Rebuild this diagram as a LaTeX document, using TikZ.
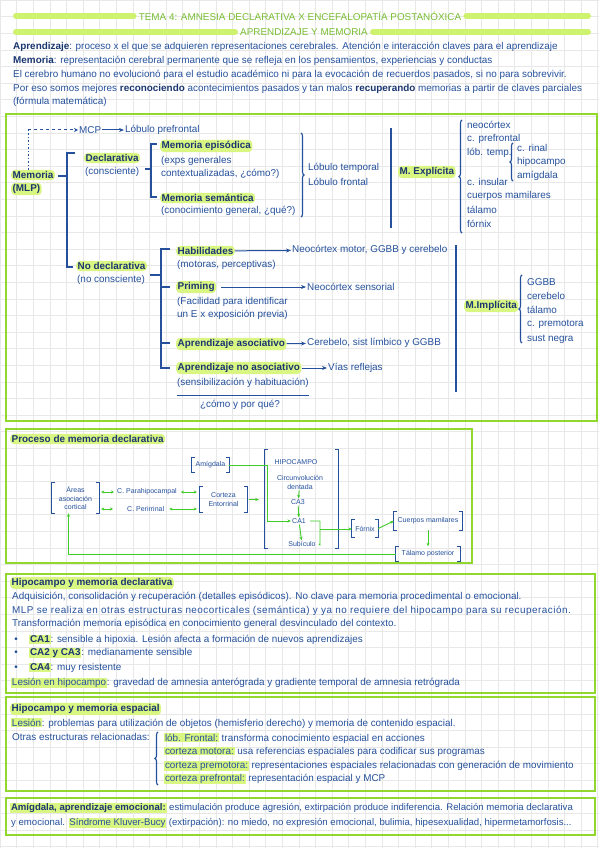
\documentclass[tikz,border=0pt]{standalone}
\usepackage{fontspec}
\setmainfont{Liberation Sans}
\usetikzlibrary{arrows.meta,decorations.pathreplacing}
\definecolor{ink}{RGB}{36,80,156}
\definecolor{inkdark}{RGB}{26,54,112}
\definecolor{framegreen}{RGB}{146,214,48}
\definecolor{barlime}{RGB}{206,242,110}
\definecolor{hilite}{RGB}{218,246,130}
\definecolor{titlegreen}{RGB}{122,190,52}
\definecolor{arrowgreen}{RGB}{64,204,40}
\definecolor{gridgray}{RGB}{232,232,232}
\newcommand\bodysz{\fontsize{9.9}{13.5}\selectfont}
\newcommand\smallbodysz{\fontsize{9.6}{13}\selectfont}
\newcommand\handsz{\fontsize{7}{8.4}\selectfont}
\newcommand\hl[1]{{\setlength\fboxsep{0.8pt}\colorbox{hilite}{#1}}}
\newcommand\hb[1]{{\color{inkdark}\bfseries #1}}
\newcommand\sqbr[1]{\draw[sbrk] ([xshift=3pt]#1.north west) -- (#1.north west) -- (#1.south west) -- ([xshift=3pt]#1.south west)
  ([xshift=-3pt]#1.north east) -- (#1.north east) -- (#1.south east) -- ([xshift=-3pt]#1.south east);}

\begin{document}
\begin{tikzpicture}[x=1pt, y=-1pt,
  every node/.style={inner sep=1pt, text=ink, font=\bodysz},
  txt/.style={anchor=west},
  hlnode/.style={anchor=west, fill=hilite, rounded corners=4pt, inner sep=1.5pt, font=\bodysz\bfseries, text=inkdark},
  hand/.style={font=\handsz, align=center},
  headline/.style={font=\fontsize{9.9}{11}\selectfont, text=titlegreen},
  bar/.style={draw=barlime, line width=6pt, line cap=round},
  frame/.style={draw=framegreen, line width=2.2pt},
  brk/.style={draw=ink, line width=1.1pt},
  sbrk/.style={draw=ink, line width=0.8pt},
  arr/.style={draw=ink, line width=1pt, -{Stealth[length=5pt,width=4pt]}},
  garr/.style={draw=arrowgreen, line width=0.9pt, -{Stealth[length=3.5pt,width=3pt]}},
  gline/.style={draw=arrowgreen, line width=0.9pt},
  gdbl/.style={draw=arrowgreen, line width=0.9pt, {Stealth[length=3pt,width=3pt]}-{Stealth[length=3pt,width=3pt]}},
  brace/.style={draw=ink, line width=1.1pt, decorate, decoration={brace, amplitude=3pt}}]

\useasboundingbox (0,0) rectangle (599,848);
\fill[white] (0,0) rectangle (599,848);
\draw[gridgray, line width=0.5pt, step=16.6pt] (0,0) grid (599,848);

\node[headline] (tema) at (300,16) {TEMA 4: AMNESIA DECLARATIVA X ENCEFALOPATÍA POSTANÓXICA};
\node[headline] (apmem) at (304,32) {APRENDIZAJE Y MEMORIA};
\draw[bar, shorten >=4pt] (16,16) -- (tema.west);
\draw[bar, shorten >=4pt] (588,16) -- (tema.east);
\draw[bar, shorten >=4pt] (16,32) -- (apmem.west);
\draw[bar, shorten >=4pt] (588,32) -- (apmem.east);

\node[txt] (p1) at (12,47) {\hb{Aprendizaje}: proceso x el que se adquieren representaciones cerebrales. Atención e interacción claves para el aprendizaje};
\node[txt] (p2) at (12,61) {\hb{Memoria}: representación cerebral permanente que se refleja en los pensamientos, experiencias y conductas};
\node[txt] (p3) at (12,75) {El cerebro humano no evolucionó para el estudio académico ni para la evocación de recuerdos pasados, si no para sobrevivir.};
\node[txt] (p4) at (12,89) {Por eso somos mejores \hb{reconociendo} acontecimientos pasados y tan malos \hb{recuperando} memorias a partir de claves parciales};
\node[txt] (p5) at (12,102) {(fórmula matemática)};

\draw[frame] (6,114) rectangle (597,421);
\node[txt] (mcp) at (78,130) {MCP};
\node[txt] (lpf) at (124,130) {Lóbulo prefrontal};
\node[hlnode] (memoria) at (11,175) {Memoria};
\node[hlnode] (mlp) at (11,189) {(MLP)};
\coordinate (bend) at (28,130);
\draw[ink, line width=1pt, dash pattern=on 1.5pt off 2pt] (memoria.north -| bend) -- (bend);
\draw[ink, line width=1pt, dash pattern=on 3pt off 3pt, -{Stealth[length=4pt,width=4pt]}] (bend) -- (mcp.west);
\draw[arr] (mcp) -- (lpf);

\node[hlnode] (decl) at (84,158) {Declarativa};
\node[txt] (consc) at (84,172) {(consciente)};
\node[hlnode] (episod) at (160,146) {Memoria episódica};
\node[txt] (episod1) at (160,161) {(exps generales};
\node[txt] (episod2) at (160,174) {contextualizadas, ¿cómo?)};
\node[hlnode] (seman) at (160,198) {Memoria semántica};
\node[txt] (seman1) at (160,211) {(conocimiento general, ¿qué?)};
\draw[brk] (58,176) -- (67,176);
\draw[brk] (75,153) -- (67,153) -- (67,267) -- (73,267);
\draw[brk] (145,169) -- (151,169);
\draw[brk] (157,144) -- (151,144) -- (151,197) -- (157,197);
\draw[brace] (301,133) -- (301,217);
\node[txt] (ltemp) at (307,168) {Lóbulo temporal};
\node[txt] (lfront) at (307,182) {Lóbulo frontal};
\draw[brk] (391,128) -- (391,228);
\node[hlnode] (expl) at (398,172) {M. Explícita};
\draw[brace] (462,233) -- (462,120);
\node[txt] (e1) at (466,125) {neocórtex};
\node[txt] (e2) at (466,139) {c. prefrontal};
\node[txt] (e3) at (466,153) {lób. temp.};
\node[txt] (e4) at (466,182) {c. insular};
\node[txt] (e5) at (466,196) {cuerpos mamilares};
\node[txt] (e6) at (466,210) {tálamo};
\node[txt] (e7) at (466,224) {fórnix};
\draw[brace] (513,181) -- (513,143);
\node[txt] (t1) at (516,148) {c. rinal};
\node[txt] (t2) at (516,162) {hipocampo};
\node[txt] (t3) at (516,176) {amígdala};

\node[hlnode] (nodecl) at (76,266) {No declarativa};
\node[txt] (noconsc) at (76,280) {(no consciente)};
\draw[brk] (150,275) -- (161,275);
\draw[brk] (170,249) -- (161,249) -- (161,368) -- (170,368);
\draw[brk] (161,287) -- (170,287);
\draw[brk] (161,343) -- (170,343);
\node[hlnode] (habil) at (176,251) {Habilidades};
\node[txt] (habil1) at (176,265) {(motoras, perceptivas)};
\node[txt] (nmotor) at (291,250) {Neocórtex motor, GGBB y cerebelo};
\node[hlnode] (priming) at (176,287) {Priming};
\node[txt] (priming1) at (176,302) {(Facilidad para identificar};
\node[txt] (priming2) at (176,315) {un E x exposición previa)};
\node[txt] (nsens) at (306,287) {Neocórtex sensorial};
\node[hlnode] (asoc) at (176,344) {Aprendizaje asociativo};
\node[txt] (climb) at (306,343) {Cerebelo, sist límbico y GGBB};
\node[hlnode] (noasoc) at (176,368) {Aprendizaje no asociativo};
\node[txt] (noasoc1) at (176,383) {(sensibilización y habituación)};
\node[txt] (vrefl) at (327,368) {Vías reflejas};
\node (como) at (240,405) {¿cómo y por qué?};
\draw[ink, line width=0.8pt] (177,395) -- (309,395);
\draw[arr] (habil) -- (nmotor);
\draw[arr, shorten <=5pt] (priming) -- (nsens);
\draw[arr] (asoc) -- (climb);
\draw[arr] (noasoc) -- (vrefl);
\draw[brk] (456,245) -- (456,392);
\node[hlnode] (impl) at (464,306) {M.Implícita};
\draw[brace] (522,343) -- (522,275);
\node[txt] (i1) at (526,282) {GGBB};
\node[txt] (i2) at (526,296) {cerebelo};
\node[txt] (i3) at (526,310) {tálamo};
\node[txt] (i4) at (526,324) {c. premotora};
\node[txt] (i5) at (526,339) {sust negra};

\draw[frame] (6,429) rectangle (472,563);
\node[hlnode] (proceso) at (10,439) {Proceso de memoria declarativa};
\node[hand, minimum width=47pt, minimum height=30pt] (areas) at (75.5,498) {Áreas\\asociación\\cortical};
\node[hand, anchor=west] (parahip) at (116,492) {C. Parahipocampal};
\node[hand, anchor=west] (perirr) at (126,509) {C. Perirrinal};
\node[hand, minimum width=47pt, minimum height=25pt] (ento) at (223.5,499.5) {Corteza\\Entorrinal};
\node[hand, minimum width=37pt, minimum height=14pt] (amig) at (210.5,465) {Amígdala};
\node[minimum width=73pt, minimum height=98pt] (hipbox) at (301.5,499) {};
\node[hand] (hipo) at (296,462) {HIPOCAMPO};
\node[hand] (circ) at (300,482.5) {Circunvolución\\dentada};
\node[hand] (ca3) at (298,502) {CA3};
\node[hand] (ca1) at (299,521) {CA1};
\node[hand] (subic) at (302,544) {Subículo};
\node[hand, minimum width=26pt, minimum height=17pt] (fornix) at (365,528.5) {Fórnix};
\node[hand, minimum width=68pt, minimum height=18pt] (mamil) at (428,521) {Cuerpos mamilares};
\node[hand, minimum width=64pt, minimum height=15pt] (talamo) at (428,554) {Tálamo posterior};
\sqbr{areas}
\sqbr{ento}
\sqbr{amig}
\sqbr{fornix}
\sqbr{mamil}
\sqbr{talamo}
\draw[brk] ([xshift=3pt]hipbox.north west) -- (hipbox.north west) -- (hipbox.south west) -- ([xshift=3pt]hipbox.south west)
  ([xshift=-3pt]hipbox.north east) -- (hipbox.north east) -- (hipbox.south east) -- ([xshift=-3pt]hipbox.south east);
\draw[gdbl, shorten <=2pt, shorten >=2pt] (areas.east |- parahip.west) -- (parahip.west);
\draw[gdbl, shorten <=2pt, shorten >=13pt] (areas.east |- perirr.west) -- (perirr.west);
\draw[gdbl, shorten <=3pt, shorten >=3pt] (parahip.east) -- (ento.west |- parahip.east);
\draw[gdbl, shorten <=4pt, shorten >=3pt] (perirr.east) -- (ento.west |- perirr.east);
\draw[garr, shorten <=2pt, shorten >=6pt] (ento.east) -- (hipbox.west |- ento.east);
\draw[garr] (amig.east) -- ++(38,0) |- (ca1.west);
\draw[garr] (circ) -- (ca3);
\draw[garr] (ca3) -- (ca1);
\draw[garr] (ca1) -- (subic);
\draw[gline] ([xshift=3pt]ca1.east) -- (320,521) -- (320,545) -- ([xshift=2pt]subic.east);
\coordinate (cajoin) at (320,529);
\draw[garr] (cajoin) -- (fornix.west |- cajoin);
\draw[garr] (fornix.east) -- (mamil.west);
\draw[garr] (mamil.south) -- (talamo.north);
\draw[garr] (talamo.west) -| ([xshift=-7pt]areas.south);

\draw[frame] (6,574) rectangle (595,693);
\node[hlnode] (hipdecl) at (10,583) {Hipocampo y memoria declarativa};
\node[txt] (d1) at (11,597) {Adquisición, consolidación y recuperación (detalles episódicos). No clave para memoria procedimental o emocional.};
\node[txt] (d2) at (11,611) {\addfontfeature{LetterSpace=5}MLP se realiza en otras estructuras neocorticales (semántica) y ya no requiere del hipocampo para su recuperación.};
\node[txt] (d3) at (11,624) {Transformación memoria episódica en conocimiento general desvinculado del contexto.};
\node (b1) at (16,640) {\textbullet};
\node (b2) at (16,653) {\textbullet};
\node (b3) at (16,668) {\textbullet};
\node[txt] (d4) at (28,640) {\hl{\hb{CA1}}: sensible a hipoxia. Lesión afecta a formación de nuevos aprendizajes};
\node[txt] (d5) at (28,653) {\hl{\hb{CA2 y CA3}}: medianamente sensible};
\node[txt] (d6) at (28,668) {\hl{\hb{CA4}}: muy resistente};
\node[txt] (d7) at (10,683) {\hl{Lesión en hipocampo}: gravedad de amnesia anterógrada y gradiente temporal de amnesia retrógrada};

\draw[frame] (6,697) rectangle (595,791);
\node[hlnode] (hipesp) at (10,709) {Hipocampo y memoria espacial};
\node[txt] (s1) at (10,723) {\hl{Lesión}: problemas para utilización de objetos (hemisferio derecho) y memoria de contenido espacial.};
\node[txt] (s2) at (11,737) {Otras estructuras relacionadas:};
\draw[brace] (158,785) -- (158,732);
\node[txt] (s3) at (163,738) {\hl{lób. Frontal:} transforma conocimiento espacial en acciones};
\node[txt] (s4) at (163,752) {\hl{corteza motora:} usa referencias espaciales para codificar sus programas};
\node[txt] (s5) at (163,766) {\hl{corteza premotora:} representaciones espaciales relacionadas con generación de movimiento};
\node[txt] (s6) at (163,779) {\hl{corteza prefrontal:} representación espacial y MCP};

\draw[frame] (6,798) rectangle (595,835);
\node[txt, font=\smallbodysz] (a1) at (9,808) {\hl{\hb{Amígdala, aprendizaje emocional:}} estimulación produce agresión, extirpación produce indiferencia. Relación memoria declarativa};
\node[txt, font=\smallbodysz] (a2) at (10,823) {y emocional. \hl{Síndrome Kluver-Bucy} (extirpación): no miedo, no expresión emocional, bulimia, hipesexualidad, hipermetamorfosis...};
\end{tikzpicture}
\end{document}
